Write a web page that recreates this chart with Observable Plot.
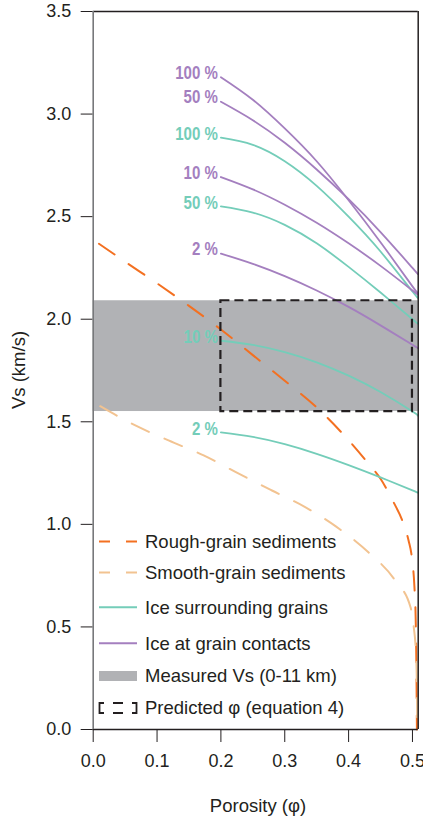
<!DOCTYPE html>
<html><head><meta charset="utf-8">
<script src="https://cdn.jsdelivr.net/npm/d3@7"></script>
<script src="https://cdn.jsdelivr.net/npm/@observablehq/plot@0.6"></script>
<style>html,body{margin:0;padding:0;background:#fff;} #chart{width:423px;height:821px;}</style>
</head><body><div id="chart"></div>
<script>
// ---- data ----
const xTicks = [0, 0.1, 0.2, 0.3, 0.4, 0.5];
const yTicks = [0, 0.5, 1.0, 1.5, 2.0, 2.5, 3.0, 3.5];

// Ice models (porosity from 0.2 to the right edge)
const phiIce = [0.2, 0.25, 0.3, 0.35, 0.4, 0.45, 0.5, 0.508];
const contact100 = [3.18, 3.07, 2.93, 2.77, 2.58, 2.375, 2.16, 2.13];
const contact50  = [3.06, 2.97, 2.86, 2.73, 2.585, 2.425, 2.25, 2.222];
const contact10  = [2.693, 2.633, 2.558, 2.47, 2.37, 2.26, 2.14, 2.12];
const contact2   = [2.32, 2.27, 2.21, 2.14, 2.06, 1.97, 1.875, 1.86];
const surround100 = [2.885, 2.85, 2.77, 2.65, 2.50, 2.33, 2.135, 2.108];
const surround50  = [2.55, 2.52, 2.46, 2.37, 2.255, 2.13, 2.00, 1.98];
const surround10  = [1.895, 1.875, 1.84, 1.79, 1.725, 1.645, 1.55, 1.53];
const surround2   = [1.448, 1.426, 1.391, 1.344, 1.289, 1.229, 1.166, 1.155];
const iceLevels = ["100 %", "50 %", "10 %", "2 %"];

// Sediment models
const phiRough = [0.009, 0.05, 0.1, 0.15, 0.2, 0.25, 0.3, 0.35, 0.4, 0.43, 0.45, 0.47, 0.484, 0.494, 0.499, 0.503, 0.505, 0.506, 0.507];
const vsRough  = [2.368, 2.28, 2.175, 2.065, 1.95, 1.825, 1.70, 1.57, 1.41, 1.30, 1.222, 1.11, 1.019, 0.92, 0.84, 0.70, 0.55, 0.35, 0.0];
const phiSmooth = [0.011, 0.066, 0.118, 0.173, 0.228, 0.28, 0.332, 0.38, 0.431, 0.473, 0.497, 0.502, 0.5055, 0.507, 0.5075];
const vsSmooth  = [1.576, 1.482, 1.409, 1.336, 1.247, 1.165, 1.084, 0.99, 0.864, 0.726, 0.596, 0.50, 0.37, 0.2, 0.0];

// Measured Vs band and predicted porosity box
const measuredVs = [1.55, 2.09];
const predictedPhi = [0.2, 0.5];

const legendLabels = ["Rough-grain sediments", "Smooth-grain sediments", "Ice surrounding grains", "Ice at grain contacts", "Measured Vs (0-11 km)", "Predicted φ (equation 4)"];

// ---- styles ----
const purple = "#a47fbf", teal = "#74cdb9", orange = "#f37021", tan = "#f2c391", bandGray = "#b1b2b5", ink = "#231f20";
const font = "'Liberation Sans', Arial, Helvetica, sans-serif";
const xDomain = [0, 0.509];

function series(group, level, xs, ys) { return xs.map((x, i) => ({group, level, phi: x, vs: ys[i]})); }
const contactRows = [contact100, contact50, contact10, contact2].flatMap((ys, k) => series("contact", iceLevels[k], phiIce, ys));
const surroundRows = [surround100, surround50, surround10, surround2].flatMap((ys, k) => series("surround", iceLevels[k], phiIce, ys));
const roughRows = series("rough", "", phiRough, vsRough);
const smoothRows = series("smooth", "", phiSmooth, vsSmooth);
const firstOf = rows => iceLevels.map(l => rows.find(r => r.level === l));

const labelStyle = {x: "phi", y: "vs", text: "level", textAnchor: "end", dx: -3, fontWeight: "bold", fontSize: 17.5, fontFamily: font};

const plot = Plot.plot({
  width: 423, height: 821,
  marginTop: 11, marginBottom: 92, marginLeft: 92.7, marginRight: 5.3,
  style: {fontFamily: font, fontSize: "18px", color: ink, background: "#fff", overflow: "visible"},
  x: {domain: xDomain, ticks: xTicks, tickFormat: d => d.toFixed(1), tickSize: 13, tickPadding: 12, label: null},
  y: {domain: [0, 3.5], ticks: yTicks, tickFormat: d => d.toFixed(1), tickSize: 12, tickPadding: 10, label: null},
  marks: [
    Plot.rect([measuredVs], {x1: () => xDomain[0], x2: () => xDomain[1], y1: d => d[0], y2: d => d[1], fill: bandGray}),
    Plot.line(roughRows, {x: "phi", y: "vs", stroke: orange, strokeWidth: 2, strokeDasharray: "19,17", curve: "monotone-x"}),
    Plot.line(smoothRows, {x: "phi", y: "vs", stroke: tan, strokeWidth: 2, strokeDasharray: "19,17", curve: "monotone-x"}),
    Plot.line(surroundRows, {x: "phi", y: "vs", z: "level", stroke: teal, strokeWidth: 1.8, curve: "natural"}),
    Plot.line(contactRows, {x: "phi", y: "vs", z: "level", stroke: purple, strokeWidth: 1.8, curve: "natural"}),
    Plot.rect([predictedPhi], {x1: d => d[0], x2: d => d[1], y1: () => measuredVs[0], y2: () => measuredVs[1], fill: "none", stroke: ink, strokeWidth: 2.2, strokeDasharray: "9,5"}),
    Plot.text(firstOf(contactRows), {...labelStyle, fill: purple, dy: -4}),
    Plot.text(firstOf(surroundRows), {...labelStyle, fill: teal, dy: -3}),
    Plot.ruleY([3.5], {stroke: ink, strokeWidth: 1.5}),
    Plot.ruleY([0], {stroke: ink, strokeWidth: 1.5}),
    Plot.ruleX([xDomain[1]], {stroke: ink, strokeWidth: 1.5}),
    Plot.ruleX([xDomain[0]], {stroke: "#77787b", strokeWidth: 1.6})
  ]
});
document.getElementById("chart").appendChild(plot);

const svg = d3.select(plot);
svg.selectAll("g[aria-label$='axis'] line, g[aria-label$='tick'] line").attr("stroke", "#414042");

// condense the bold percentage labels horizontally (narrow bold face in the original)
svg.selectAll("g[aria-label='text'] text").each(function() {
  const len = this.getComputedTextLength();
  if (len > 0) {
    this.setAttribute("textLength", (len * 0.86).toFixed(2));
    this.setAttribute("lengthAdjust", "spacingAndGlyphs");
  }
});

// ---- axis titles and legend (layout) ----
svg.append("text").attr("x", 258).attr("y", 806).attr("dy", "0.35em").attr("text-anchor", "middle")
  .attr("font-size", 18.5).attr("fill", ink).text("Porosity (φ)");
svg.append("text").attr("transform", "translate(19,370) rotate(-90)").attr("dy", "0.35em").attr("text-anchor", "middle")
  .attr("font-size", 18.5).attr("fill", ink).text("Vs (km/s)");

const lg = svg.append("g").attr("font-size", 18.5).attr("fill", ink).attr("text-anchor", "start");
const rowsY = [541.5, 572.5, 607.2, 643.2, 676, 708];
const sx0 = 99, sx1 = 137;
lg.append("line").attr("x1", sx0).attr("x2", sx1).attr("y1", rowsY[0]).attr("y2", rowsY[0]).attr("stroke", orange).attr("stroke-width", 2).attr("stroke-dasharray", "11,16");
lg.append("line").attr("x1", sx0).attr("x2", sx1).attr("y1", rowsY[1]).attr("y2", rowsY[1]).attr("stroke", tan).attr("stroke-width", 2).attr("stroke-dasharray", "11,16");
lg.append("line").attr("x1", sx0).attr("x2", sx1).attr("y1", rowsY[2]).attr("y2", rowsY[2]).attr("stroke", teal).attr("stroke-width", 2);
lg.append("line").attr("x1", sx0).attr("x2", sx1).attr("y1", rowsY[3]).attr("y2", rowsY[3]).attr("stroke", purple).attr("stroke-width", 2);
lg.append("rect").attr("x", sx0).attr("y", rowsY[4] - 5).attr("width", sx1 - sx0).attr("height", 10).attr("fill", bandGray);
const py = rowsY[5];
lg.append("path").attr("d", `M104,${py-5}H99.5V${py+5}H104 M113,${py-5}H123 M113,${py+5}H123 M132,${py-5}H136.5V${py+5}H132`)
  .attr("fill", "none").attr("stroke", ink).attr("stroke-width", 1.8);
legendLabels.forEach((t, i) => {
  lg.append("text").attr("x", 145).attr("y", rowsY[i]).attr("dy", "0.35em").attr("text-anchor", "start").text(t);
});
</script></body></html>
